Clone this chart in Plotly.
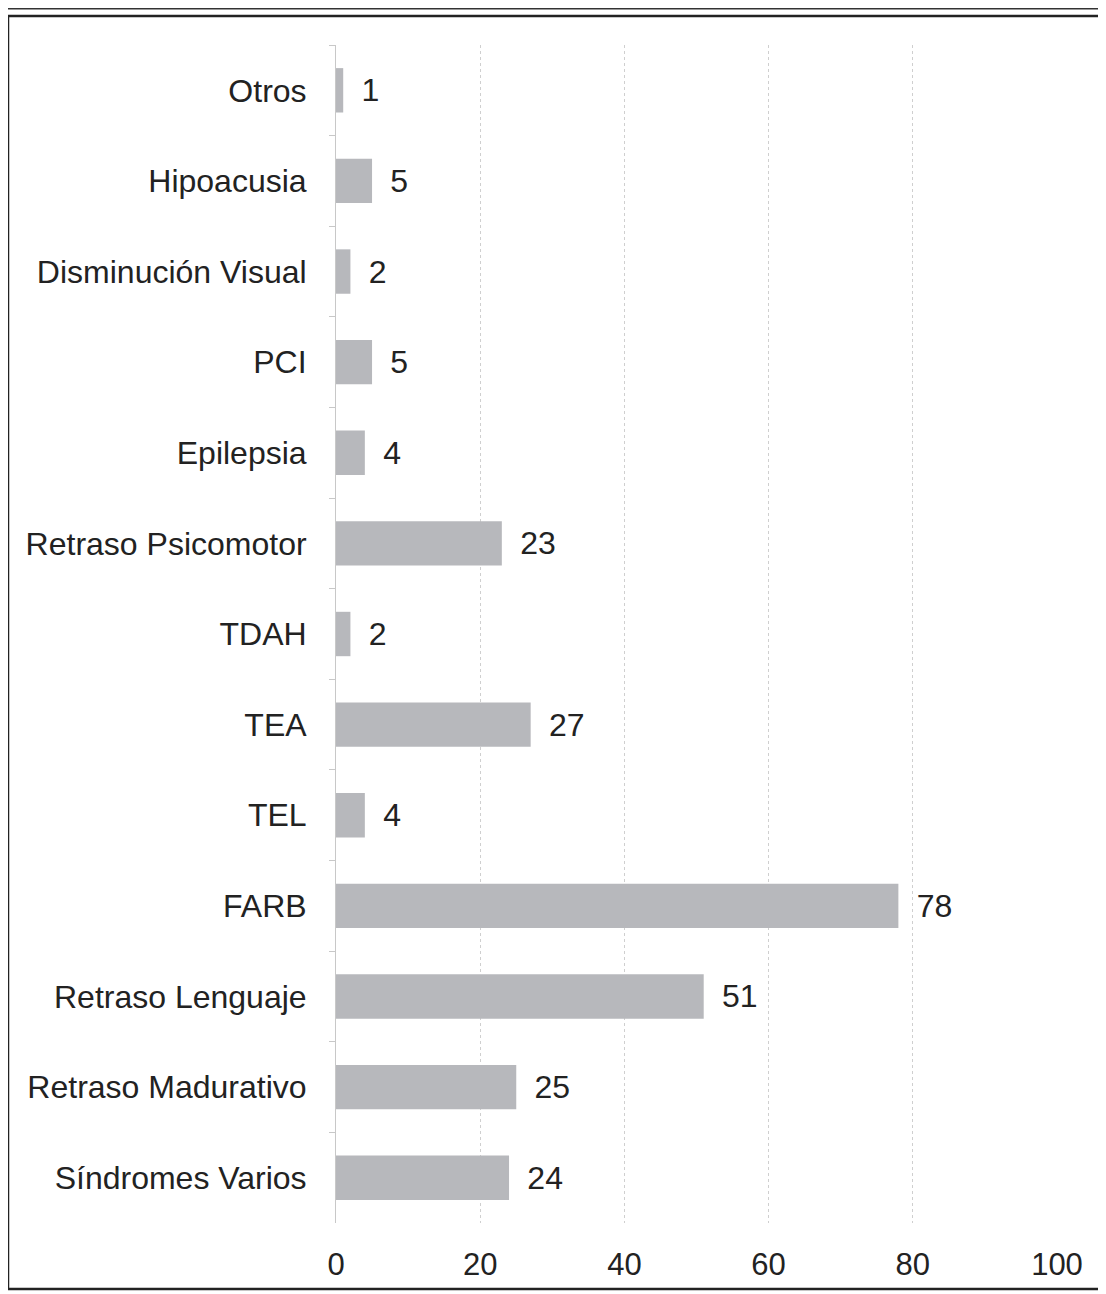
import plotly.graph_objects as go

categories = ["Otros", "Hipoacusia", "Disminución Visual", "PCI", "Epilepsia",
              "Retraso Psicomotor", "TDAH", "TEA", "TEL", "FARB",
              "Retraso Lenguaje", "Retraso Madurativo", "Síndromes Varios"]
values = [1, 5, 2, 5, 4, 23, 2, 27, 4, 78, 51, 25, 24]
x_ticks = [0, 20, 40, 60, 80, 100]

# the page body has an 8px margin, so the figure is sized to fit the window
W, H = 1098, 1286
L, R, T, B = 328, 49, 37, 69
pw, ph = W - L - R, H - T - B


def px_x(p):
    return (p - L) / pw


def px_y(p):
    return (H - B - p) / ph


fig = go.Figure(go.Bar(
    y=categories, x=values, orientation="h",
    marker=dict(color="#b7b8bc", line=dict(width=0)),
    text=["\u00a0\u2009" + str(v) for v in values], textposition="outside",
    textfont=dict(size=32, color="#222"),
    cliponaxis=False, width=0.49,
))

fig.update_layout(
    width=W, height=H,
    margin=dict(l=L, r=R, t=T, b=B),
    paper_bgcolor="white", plot_bgcolor="white",
    font=dict(family="Liberation Sans, Arial, sans-serif", size=32, color="#222"),
    showlegend=False,
    shapes=[
        dict(type="rect", xref="paper", yref="paper",
             x0=px_x(0), x1=px_x(1110), y0=px_y(1283), y1=px_y(8),
             line=dict(color="#222", width=2.5), fillcolor="rgba(0,0,0,0)", layer="below"),
        dict(type="line", xref="paper", yref="paper",
             x0=px_x(0), x1=px_x(1100), y0=px_y(0.5), y1=px_y(0.5),
             line=dict(color="#333", width=2)),
    ],
)
fig.update_xaxes(
    range=[0, 100], tickvals=x_ticks, ticktext=[str(t) for t in x_ticks],
    showgrid=True, gridcolor="#cfcfcf", griddash="dot", gridwidth=1,
    zeroline=False, showline=False, ticks="", ticklabelstandoff=20,
    tickfont=dict(size=31, color="#222"),
)
fig.update_yaxes(
    categoryorder="array", categoryarray=categories, autorange="reversed",
    showline=True, linecolor="#c8c8c8", linewidth=1,
    ticks="outside", tickson="boundaries", ticklen=6, tickcolor="#c8c8c8",
    ticklabelstandoff=22, showgrid=False,
    tickfont=dict(size=32, color="#222"),
)

fig.write_html("out.html")
